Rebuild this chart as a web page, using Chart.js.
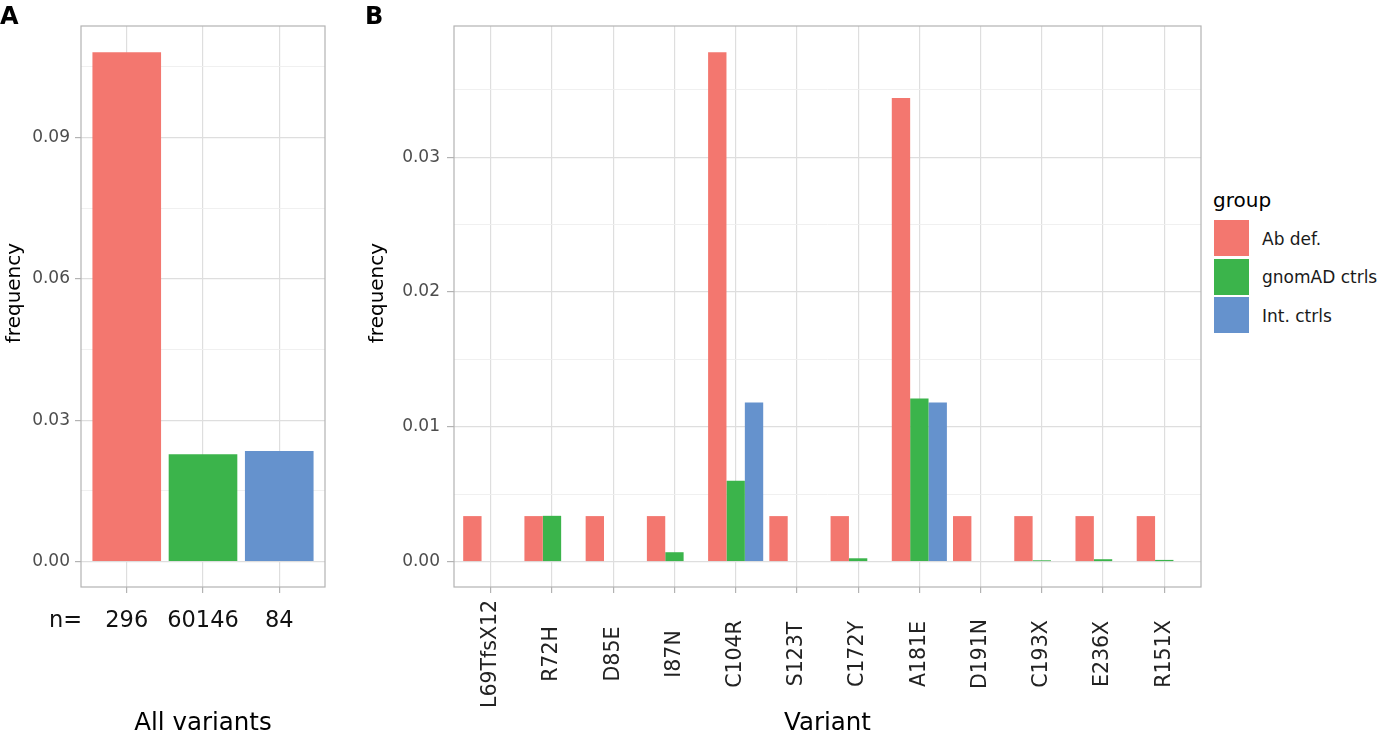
<!DOCTYPE html>
<html><head><meta charset="utf-8">
<script src="https://cdn.jsdelivr.net/npm/chart.js@4.4.0/dist/chart.umd.min.js"></script>
<style>
html,body{margin:0;padding:0;background:#fff;}
#wrap{position:relative;width:1380px;height:738px;overflow:hidden;font-family:"DejaVu Sans",sans-serif;color:#000;}
.abs{position:absolute;white-space:nowrap;}
#boxA{left:0;top:0;width:340px;height:738px;}
#boxB{left:340px;top:0;width:870px;height:738px;}
.panel{font-weight:bold;font-size:24px;line-height:24px;}
.key{width:35px;height:36px;}
.lab{font-size:17px;line-height:17px;color:#1a1a1a;}
</style>
</head><body>
<div id="wrap">
  <div id="boxA" class="abs"><canvas id="cA"></canvas></div>
  <div id="boxB" class="abs"><canvas id="cB"></canvas></div>
  <div class="abs panel" style="left:0px;top:4px;">A</div>
  <div class="abs panel" style="left:365px;top:4px;">B</div>
  <div class="abs" style="left:49px;top:608px;font-size:22.5px;line-height:22.5px;color:#111;">n=</div>
  <div id="legend"></div>
</div>
<script>
// ---- data ----
const groups = ['Ab def.', 'gnomAD ctrls', 'Int. ctrls'];
const groupColors = ['#F3776F', '#3BB44B', '#6592CD'];
const nLabels = ['296', '60146', '84'];
const allFreq = [0.1080, 0.0228, 0.0235];
const variants = ['L69TfsX12','R72H','D85E','I87N','C104R','S123T','C172Y','A181E','D191N','C193X','E236X','R151X'];
const abDef   = [0.00338,0.00338,0.00338,0.00338,0.0378,0.00338,0.00338,0.0344,0.00338,0.00338,0.00338,0.00338];
const gnomad  = [0,0.0034,0,0.0007,0.0060,0,0.00025,0.0121,0,0.0001,0.00018,0.00013];
const intCtrl = [0,0,0,0,0.0118,0,0,0.0118,0,0,0,0];
const yMajorA = [0, 0.03, 0.06, 0.09];
const yMinorA = [0.015, 0.045, 0.075, 0.105];
const yLabelA = ['0.00','0.03','0.06','0.09'];
const yMajorB = [0, 0.01, 0.02, 0.03];
const yMinorB = [0.005, 0.015, 0.025, 0.035];
const yLabelB = ['0.00','0.01','0.02','0.03'];
const yTitle = 'frequency';

Chart.defaults.font.family = '"DejaVu Sans", sans-serif';

const frame = {id:'frame', afterDatasetsDraw(chart){
  const {ctx, chartArea:a} = chart;
  ctx.save(); ctx.strokeStyle='#b3b3b3'; ctx.lineWidth=1.2;
  ctx.strokeRect(a.left, a.top, a.right-a.left, a.bottom-a.top);
  ctx.restore();
}};

// y-axis title, placed like the reference (slightly above the panel centre)
const yTitlePlugin = {id:'yTitlePlugin', afterDraw(chart, args, opts){
  const ctx = chart.ctx;
  ctx.save();
  ctx.font = '20px "DejaVu Sans"'; ctx.fillStyle = '#000';
  ctx.textAlign = 'center'; ctx.textBaseline = 'middle';
  ctx.translate(opts.x, chart.chartArea.top + (chart.chartArea.bottom - chart.chartArea.top) * 0.476);
  ctx.rotate(-Math.PI/2); ctx.fillText(yTitle, 0, 0);
  ctx.restore();
}};

const rotLabels = {id:'rotLabels', afterDraw(chart){
  const s = chart.scales.x, ctx = chart.ctx;
  ctx.save();
  ctx.font = '20.5px "DejaVu Sans"'; ctx.fillStyle = '#222';
  ctx.textAlign = 'center'; ctx.textBaseline = 'middle';
  variants.forEach((v,i)=>{
    const x = s.getPixelForValue(i+1), y = chart.chartArea.bottom + 67;
    ctx.save(); ctx.translate(x,y); ctx.rotate(-Math.PI/2); ctx.fillText(v,0,0); ctx.restore();
  });
  ctx.restore();
}};

function yAxis(min, max, majors, minors, labels, width, tl, pad){
  const isMajor = v => majors.some(m => Math.abs(m - v) < 1e-9);
  return {
    type:'linear', min, max,
    afterBuildTicks(s){ s.ticks = majors.concat(minors).sort((a,b)=>a-b).map(v=>({value:v})); },
    afterFit(s){ s.width = width; },
    ticks:{
      autoSkip:false, padding:pad, color:'#4d4d4d', font:{size:17},
      callback(v){ const i = majors.findIndex(m => Math.abs(m - v) < 1e-9); return i >= 0 ? labels[i] : ''; }
    },
    grid:{
      offset:false,
      color(c){ return c.tick && isMajor(c.tick.value) ? '#dedede' : '#eeeeee'; },
      lineWidth(c){ return c.tick && isMajor(c.tick.value) ? 1.2 : 0.9; },
      tickColor(c){ return c.tick && isMajor(c.tick.value) ? '#b3b3b3' : 'rgba(0,0,0,0)'; },
      tickLength: tl
    },
    border:{display:false},
    title:{display:false}
  };
}

new Chart(document.getElementById('cA'), {
  type:'bar',
  data:{ datasets:[{
    data: allFreq.map((v,i)=>({x:i+1, y:v})),
    backgroundColor: groupColors, borderWidth:0,
    categoryPercentage:0.9, barPercentage:1
  }]},
  options:{
    responsive:true, maintainAspectRatio:false, animation:false,
    layout:{padding:{left:0, right:15, top:26, bottom:0}},
    plugins:{legend:{display:false}, tooltip:{enabled:false}, yTitlePlugin:{x:15}},
    scales:{
      x:{
        type:'linear', min:0.4, max:3.6, offset:false,
        afterBuildTicks(s){ s.ticks = nLabels.map((_,i)=>({value:i+1})); },
        afterFit(s){ s.height = 151; },
        ticks:{ autoSkip:false, maxRotation:0, padding:15, color:'#111', font:{size:22.5},
          callback(v){ return nLabels[Math.round(v)-1]; } },
        grid:{ offset:false, color:'#dedede', lineWidth:1.2, tickColor:'#b3b3b3', tickLength:6 },
        border:{display:false},
        title:{display:true, text:'All variants', color:'#000', font:{size:24.5}, padding:{top:0, bottom:0}}
      },
      y: yAxis(-0.00536, 0.11359, yMajorA, yMinorA, yLabelA, 81, 6, 5)
    }
  },
  plugins:[frame, yTitlePlugin]
});

const seriesB = [abDef, gnomad, intCtrl];
new Chart(document.getElementById('cB'), {
  type:'bar',
  data:{ datasets: seriesB.map((arr,k)=>({
    label: groups[k],
    data: arr.map((v,i)=>({x:i+1, y:v})),
    backgroundColor: groupColors[k], borderWidth:0,
    categoryPercentage:0.9, barPercentage:1
  }))},
  options:{
    responsive:true, maintainAspectRatio:false, animation:false,
    layout:{padding:{left:0, right:9, top:26, bottom:0}},
    plugins:{legend:{display:false}, tooltip:{enabled:false}, yTitlePlugin:{x:38}},
    scales:{
      x:{
        type:'linear', min:0.4, max:12.6, offset:false,
        afterBuildTicks(s){ s.ticks = variants.map((_,i)=>({value:i+1})); },
        afterFit(s){ s.height = 151; },
        ticks:{ display:false, autoSkip:false },
        grid:{ offset:false, color:'#dedede', lineWidth:1.2, tickColor:'#b3b3b3', tickLength:6 },
        border:{display:false},
        title:{display:true, text:'Variant', color:'#000', font:{size:24.5}, padding:{top:0, bottom:0}}
      },
      y: yAxis(-0.00188, 0.03974, yMajorB, yMinorB, yLabelB, 114, 7, 7)
    }
  },
  plugins:[frame, rotLabels, yTitlePlugin]
});

// legend (HTML)
const lg = document.getElementById('legend');
let html = '<div class="abs" style="left:1213px;top:190px;font-size:20px;line-height:20px;">group</div>';
groups.forEach((g,k)=>{
  const top = 220 + k*38.6;
  html += '<div class="abs key" style="left:1214px;top:'+top+'px;background:'+groupColors[k]+';"></div>';
  html += '<div class="abs lab" style="left:1262px;top:'+(top+10.6)+'px;">'+g+'</div>';
});
lg.innerHTML = html;
</script>
</body></html>
